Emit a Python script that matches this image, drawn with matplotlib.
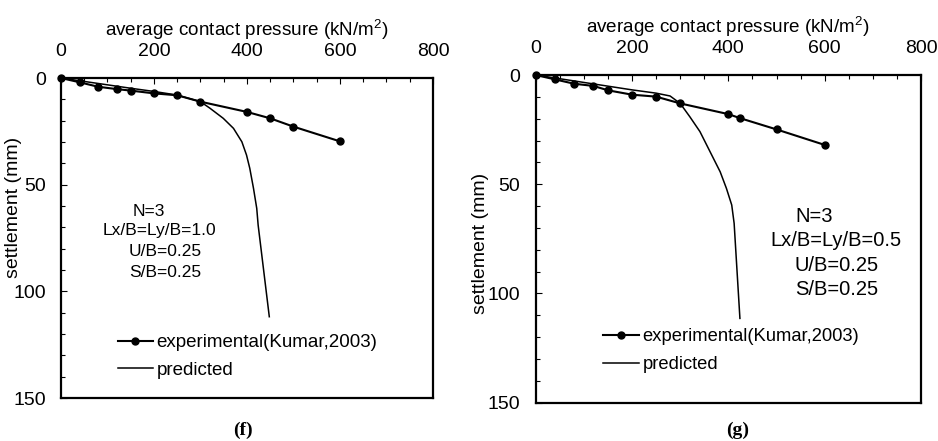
import numpy as np
import matplotlib
matplotlib.use("Agg")
import matplotlib.pyplot as plt
from matplotlib.ticker import MultipleLocator

plt.rcParams["font.family"] = ["Liberation Sans", "DejaVu Sans"]
plt.rcParams["mathtext.fontset"] = "custom"
plt.rcParams["mathtext.rm"] = "Liberation Sans"
plt.rcParams["mathtext.default"] = "regular"

# ---- data ----
# (f) Lx/B = Ly/B = 1.0
exp_f_x = [0, 40, 80, 120, 150, 200, 250, 300, 400, 450, 500, 600]
exp_f_y = [0, 2.0, 4.1, 5.2, 5.9, 7.2, 8.1, 11.1, 15.9, 18.9, 22.8, 29.7]
pred_f_x = [0, 50, 100, 150, 200, 250, 300, 320, 349, 371, 389, 399, 406, 414, 421, 424, 448]
pred_f_y = [0, 1.6, 3.2, 4.8, 6.3, 8.0, 11.1, 14.1, 18.9, 23.6, 29.9, 36.1, 42.3, 51.7, 61.1, 68.9, 111.9]

# (g) Lx/B = Ly/B = 0.5
exp_g_x = [0, 40, 80, 120, 150, 200, 250, 300, 400, 425, 500, 600]
exp_g_y = [0, 2.0, 4.0, 5.0, 7.0, 9.0, 9.9, 13.0, 17.9, 19.8, 24.9, 32.0]
pred_g_x = [0, 50, 100, 150, 200, 250, 279, 300, 320, 341, 362, 383, 396, 407, 412, 424]
pred_g_y = [0, 1.7, 3.4, 5.1, 6.8, 8.3, 9.6, 13.0, 19.1, 25.9, 35.1, 44.3, 51.9, 59.5, 67.9, 111.4]

notes_f = ["N=3", "Lx/B=Ly/B=1.0", "U/B=0.25", "S/B=0.25"]
notes_g = ["N=3", "Lx/B=Ly/B=0.5", "U/B=0.25", "S/B=0.25"]

fig = plt.figure(figsize=(9.38, 4.41), dpi=100)
ax_f = fig.add_axes([0.065, 0.0975, 0.3966, 0.7256])
ax_g = fig.add_axes([0.5711, 0.0868, 0.4108, 0.7431])


def style_axes(ax, ylab_xy):
    ax.set_xlim(0, 800)
    ax.set_ylim(150, 0)
    ax.xaxis.tick_top()
    ax.xaxis.set_label_position("top")
    ax.xaxis.set_major_locator(MultipleLocator(200))
    ax.xaxis.set_minor_locator(MultipleLocator(50))
    ax.yaxis.set_major_locator(MultipleLocator(50))
    ax.yaxis.set_minor_locator(MultipleLocator(10))
    ax.tick_params(which="both", direction="in", top=True, bottom=False,
                   left=True, right=False, width=0.8, colors="black")
    ax.tick_params(which="major", length=4)
    ax.tick_params(which="minor", length=3)
    ax.tick_params(axis="x", which="major", labelsize=14, pad=13)
    ax.tick_params(axis="y", which="major", labelsize=14, pad=11)
    for sp in ax.spines.values():
        sp.set_linewidth(1.6)
    ax.set_xlabel("average contact pressure (kN/m$^2$)", fontsize=13.6, labelpad=5)
    ax.set_ylabel("settlement (mm)", fontsize=14)
    ax.yaxis.set_label_coords(*ylab_xy)


style_axes(ax_f, (-0.106, 0.595))
style_axes(ax_g, (-0.12, 0.487))

# panel (f)
ax_f.plot(exp_f_x, exp_f_y, color="black", lw=1.5, marker="o", ms=5,
          label="experimental(Kumar,2003)", clip_on=False, zorder=3)
ax_f.plot(pred_f_x, pred_f_y, color="black", lw=1.1, label="predicted")
for txt, (tx, ty) in zip(notes_f, [(189, 62.4), (211, 71.6), (225, 81.4), (225, 91.1)]):
    ax_f.text(tx, ty, txt, fontsize=12.5, ha="center", va="center")
ax_f.legend(loc="upper left", bbox_to_anchor=(118 / 938, 1 - 334 / 441),
            bbox_transform=fig.transFigure, frameon=False, fontsize=13.5,
            borderpad=0, borderaxespad=0, handlelength=1.85, handletextpad=0.2,
            labelspacing=0.55)

# panel (g)
ax_g.plot(exp_g_x, exp_g_y, color="black", lw=1.5, marker="o", ms=5,
          label="experimental(Kumar,2003)", clip_on=False, zorder=3)
ax_g.plot(pred_g_x, pred_g_y, color="black", lw=1.1, label="predicted")
for txt, (tx, ty) in zip(notes_g, [(578, 64.8), (623, 75.8), (625, 87), (625, 98)]):
    ax_g.text(tx, ty, txt, fontsize=14.5, ha="center", va="center")
ax_g.legend(loc="upper left", bbox_to_anchor=(603 / 938, 1 - 328 / 441),
            bbox_transform=fig.transFigure, frameon=False, fontsize=13.2,
            borderpad=0, borderaxespad=0, handlelength=1.95, handletextpad=0.2,
            labelspacing=0.6)

fig.text(243 / 938, 1 - 430 / 441, "(f)", fontsize=14, fontweight="bold",
         family="Liberation Serif", ha="center", va="center")
fig.text(738 / 938, 1 - 430 / 441, "(g)", fontsize=14, fontweight="bold",
         family="Liberation Serif", ha="center", va="center")

fig.savefig("out.png", dpi=100)
